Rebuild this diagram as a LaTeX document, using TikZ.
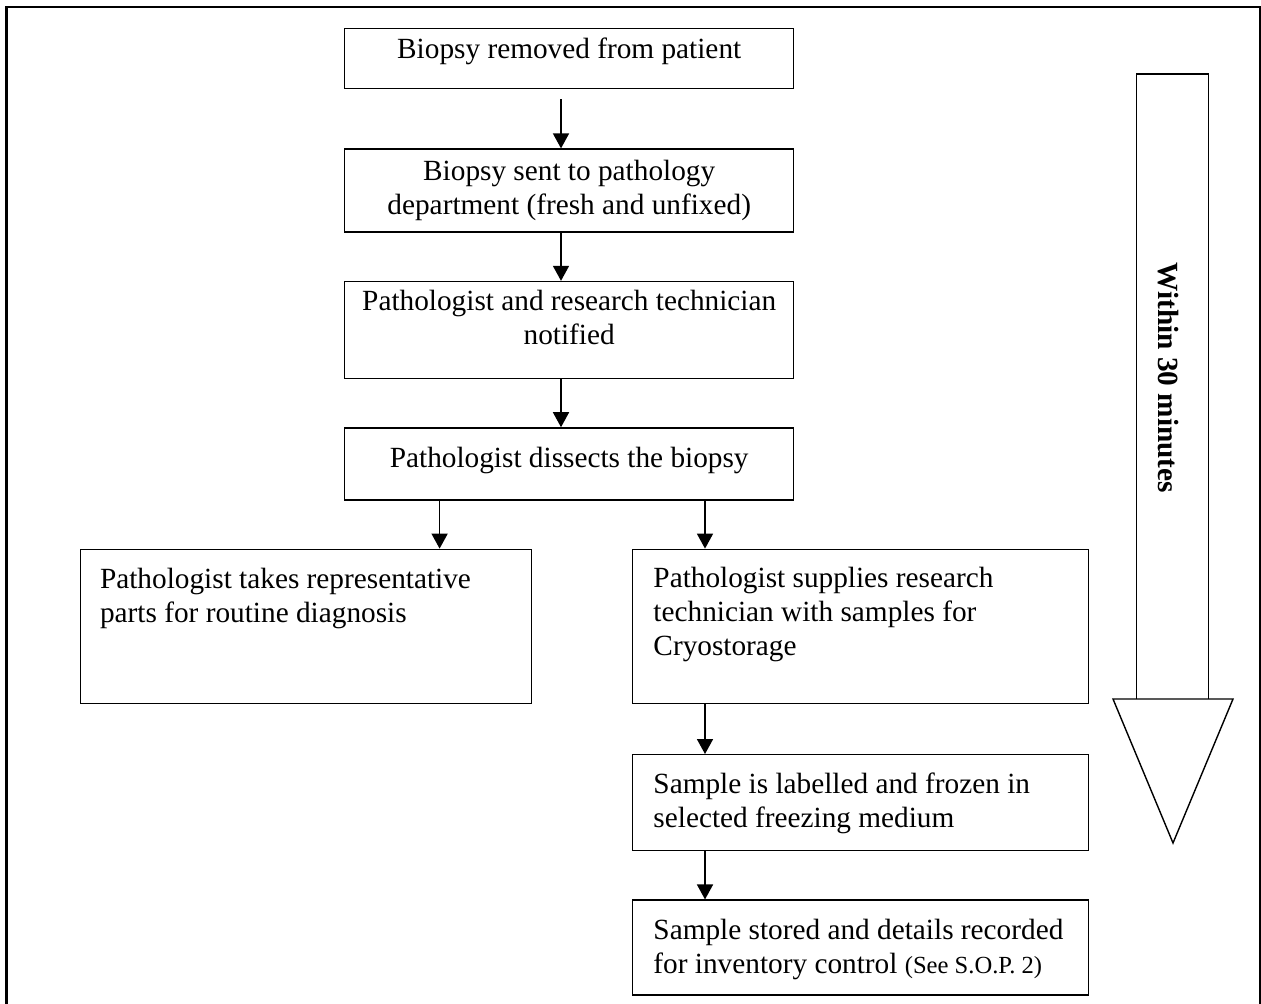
\documentclass[tikz,border=0pt]{standalone}
\usepackage{fontspec}
\setmainfont{Liberation Serif}
\usepackage{tikz}
\usetikzlibrary{arrows.meta}
\usetikzlibrary{positioning}
\tikzset{font={\fontsize{12.5}{14.5}\selectfont}}
\tikzset{stepbox/.style={rectangle, draw, line width=0.6pt, inner sep=0pt, minimum width=6.735cm}}
\tikzset{rightbox/.style={stepbox, minimum width=6.84cm}}
\tikzset{steptext/.style={align=center, inner sep=0pt}}
\tikzset{lefttext/.style={align=left, inner sep=0pt}}
\tikzset{flow/.style={line width=0.7pt, -{Triangle[length=2.25mm, width=2.4mm]}}}

\begin{document}
\begin{tikzpicture}

	\clip (0,0) rectangle (18.915,-15.045);

	% outer frame, bottom runs off the page
	\draw[line width=1pt] (0.1,-15.5) -- (0.1,-0.105) -- (18.9,-0.105) -- (18.9,-15.5);

	\node (removed) [stepbox, minimum height=0.9cm, anchor=north west] at (5.16,-0.42) {};
	\node (removed_txt) [steptext, below=0.135cm of removed.north] {Biopsy removed from patient};

	\node (sent) [stepbox, minimum height=1.245cm, below=0.885cm of removed] {};
	\node (sent_txt) [steptext, below=0.165cm of sent.north] {Biopsy sent to pathology\\department (fresh and unfixed)};

	\node (notified) [stepbox, minimum height=1.455cm, below=0.72cm of sent] {};
	\node (notified_txt) [steptext, below=0.135cm of notified.north] {Pathologist and research technician\\notified};

	\node (dissect) [stepbox, minimum height=1.08cm, below=0.72cm of notified] {};
	\node (dissect_txt) [steptext, below=0.285cm of dissect.north] {Pathologist dissects the biopsy};

	\node (supplies) [rightbox, minimum height=2.31cm, below right=0.72cm and 4.32cm of dissect.south west] {};
	\node (supplies_txt) [lefttext, below right=0.27cm and 0.315cm of supplies.north west] {Pathologist supplies research\\technician with samples for\\Cryostorage};

	\node (routine) [stepbox, minimum width=6.765cm, minimum height=2.31cm, left=1.5cm of supplies] {};
	\node (routine_txt) [lefttext, below right=0.285cm and 0.3cm of routine.north west] {Pathologist takes representative\\parts for routine diagnosis};

	\node (labelled) [rightbox, minimum height=1.44cm, below=0.75cm of supplies] {};
	\node (labelled_txt) [lefttext, below right=0.27cm and 0.315cm of labelled.north west] {Sample is labelled and frozen in\\selected freezing medium};

	\node (stored) [rightbox, minimum height=1.425cm, below=0.72cm of labelled] {};
	\node (stored_txt) [lefttext, below right=0.285cm and 0.315cm of stored.north west] {Sample stored and details recorded\\for inventory control {\fontsize{10.5}{14.5}\selectfont(See S.O.P. 2)}};

	% arrows between the steps
	\draw[flow, shorten <=0.15cm] ([xshift=3.255cm]removed.south west) -- ([xshift=3.255cm]sent.north west);

	\draw[flow] ([xshift=3.255cm]sent.south west) -- ([xshift=3.255cm]notified.north west);

	\draw[flow] ([xshift=3.255cm]notified.south west) -- ([xshift=3.255cm]dissect.north west);

	\draw[flow] ([xshift=5.4cm]routine.north west |- dissect.south) -- ([xshift=5.4cm]routine.north west);

	\draw[flow] ([xshift=1.095cm]supplies.north west |- dissect.south) -- ([xshift=1.095cm]supplies.north west);

	\draw[flow] ([xshift=1.095cm]supplies.south west) -- ([xshift=1.095cm]labelled.north west);

	\draw[flow] ([xshift=1.095cm]labelled.south west) -- ([xshift=1.095cm]stored.north west);

	% time arrow
	\draw[line width=0.6pt] (17.0475,-10.485) -- (17.0475,-1.11) -- (18.1275,-1.11) -- (18.1275,-10.485);
	\draw[line width=0.6pt] (16.695,-10.485) -- (18.495,-10.485) -- (17.595,-12.645) -- cycle;

	\node (timelimit) [rotate=-90, anchor=west, inner sep=0pt, font={\fontsize{12.5}{14.5}\selectfont\bfseries}] at (17.52,-3.93) {Within 30 minutes};

\end{tikzpicture}
\end{document}
